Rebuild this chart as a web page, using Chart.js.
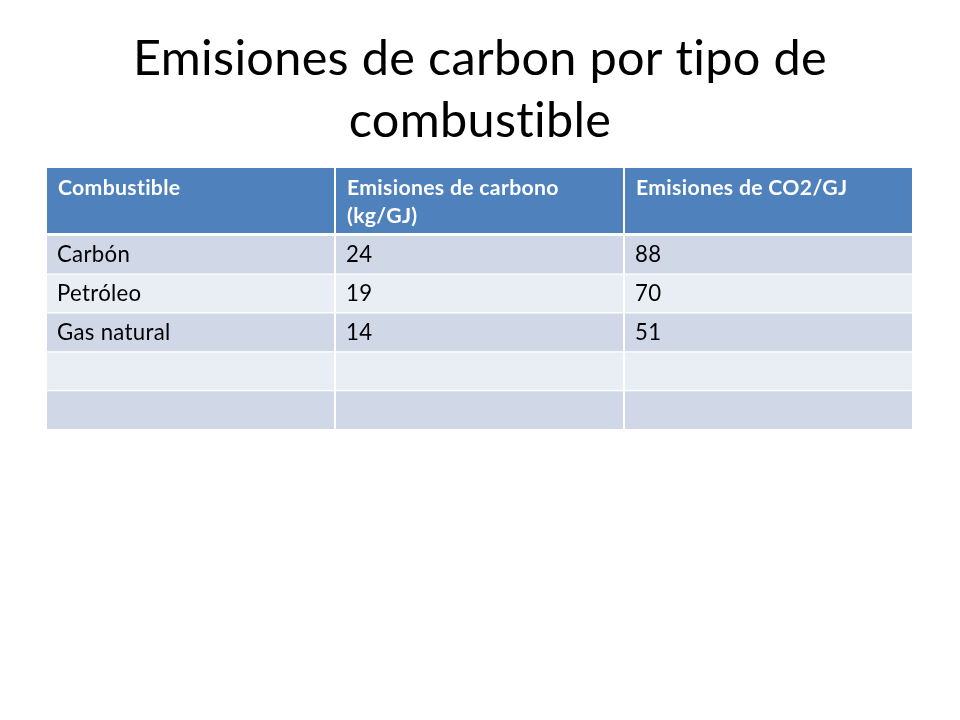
<!DOCTYPE html>
<html>
<head>
<meta charset="utf-8">
<script src="https://cdn.jsdelivr.net/npm/chart.js@4/dist/chart.umd.min.js"></script>
<style>
  html, body { margin: 0; padding: 0; background: #ffffff; }
  #wrap { width: 960px; height: 720px; position: relative; }
</style>
</head>
<body>
<div id="wrap"><canvas id="c" width="960" height="720"></canvas></div>
<script>
// ---- data ----
const titleLines = ['Emisiones de carbon por tipo de', 'combustible'];
const headerLines = [['Combustible'], ['Emisiones de carbono', '(kg/GJ)'], ['Emisiones de CO2/GJ']];
const fuels = ['Carbón', 'Petróleo', 'Gas natural', '', ''];
const carbonKgPerGJ = [24, 19, 14, null, null];
const co2PerGJ = [88, 70, 51, null, null];
const columnValues = [fuels, carbonKgPerGJ, co2PerGJ];

// ---- style ----
const FONT = 'Lato, "Noto Sans", sans-serif';
const HEADER_BLUE = '#4F81BD';
const ROW_DARK = '#D0D8E8';
const ROW_LIGHT = '#E9EDF4';

function setSpacing(ctx) {
  // a tiny letter spacing keeps the "ti" ligature of Lato from forming
  if ('letterSpacing' in ctx) ctx.letterSpacing = '0.3px';
}

function fitSize(ctx, text, weight, target) {
  ctx.font = weight + ' 100px ' + FONT;
  setSpacing(ctx);
  return 100 * target / ctx.measureText(text).width;
}

const tablePlugin = {
  id: 'tablePlugin',
  beforeDatasetsDraw(chart) {
    const ctx = chart.ctx;
    const xs = chart.scales.x;
    ctx.save();
    ctx.fillStyle = HEADER_BLUE;
    for (let c = 0; c < headerLines.length; c++) {
      const l = xs.getPixelForValue(c) + 1;
      const r = xs.getPixelForValue(c + 1) - 1;
      ctx.fillRect(l, 168, r - l, 65);
    }
    ctx.restore();
  },
  afterDatasetsDraw(chart) {
    const ctx = chart.ctx;
    const xs = chart.scales.x, ys = chart.scales.y;
    ctx.save();
    // header text
    const hSize = fitSize(ctx, 'Emisiones de CO2/GJ', 'bold', 207);
    ctx.font = 'bold ' + hSize.toFixed(2) + 'px ' + FONT;
    setSpacing(ctx);
    ctx.fillStyle = '#ffffff';
    ctx.textAlign = 'left';
    ctx.textBaseline = 'alphabetic';
    headerLines.forEach((lines, c) => {
      lines.forEach((t, k) => {
        ctx.fillText(t, xs.getPixelForValue(c) + 12, 194.5 + k * 28);
      });
    });
    // body text
    const bSize = fitSize(ctx, 'Gas natural', 'normal', 111);
    ctx.font = 'normal ' + bSize.toFixed(2) + 'px ' + FONT;
    setSpacing(ctx);
    ctx.fillStyle = '#000000';
    columnValues.forEach((vals, c) => {
      vals.forEach((v, i) => {
        if (v === null || v === '') return;
        ctx.fillText(String(v), xs.getPixelForValue(c) + 11, ys.getPixelForValue(i) + 7.5);
      });
    });
    // title
    const tSize = fitSize(ctx, titleLines[0], 'normal', 689);
    ctx.font = 'normal ' + tSize.toFixed(2) + 'px ' + FONT;
    setSpacing(ctx);
    ctx.textAlign = 'center';
    titleLines.forEach((t, k) => ctx.fillText(t, 480, 75 + k * 62));
    ctx.restore();
  }
};

const datasets = headerLines.map((h, c) => ({
  label: h.join(' '),
  data: fuels.map(() => [c, c + 1]),
  backgroundColor: (ctx) => (ctx.dataIndex % 2 === 0 ? ROW_DARK : ROW_LIGHT),
  borderColor: '#ffffff',
  borderWidth: { top: 1, bottom: 0, left: 1, right: 1 },
  borderSkipped: false,
  inflateAmount: 0,
  grouped: false,
  barPercentage: 1,
  categoryPercentage: 1
}));

new Chart(document.getElementById('c'), {
  type: 'bar',
  data: { labels: fuels.map((f, i) => f || ('fila ' + (i + 1))), datasets },
  options: {
    responsive: false,
    animation: false,
    indexAxis: 'y',
    layout: { padding: { left: 46, right: 47, top: 235, bottom: 291 } },
    scales: {
      x: { type: 'linear', min: 0, max: 3, display: false },
      y: { type: 'category', display: false, offset: true }
    },
    plugins: { legend: { display: false }, tooltip: { enabled: false }, title: { display: false } }
  },
  plugins: [tablePlugin]
});
</script>
</body>
</html>
